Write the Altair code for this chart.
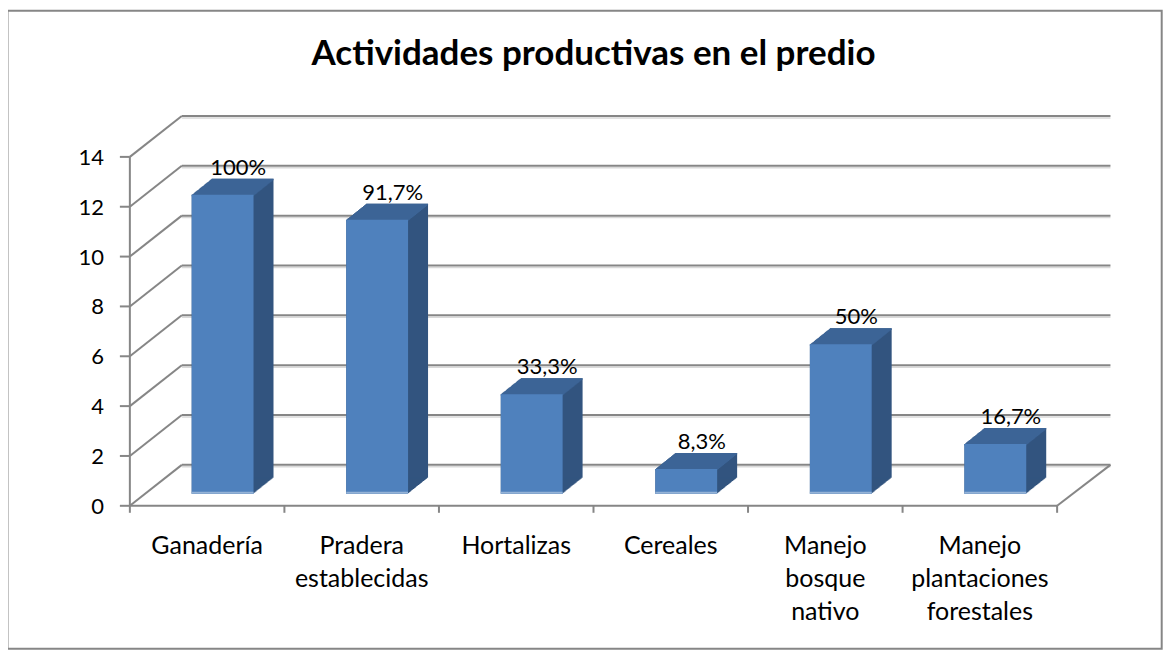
import altair as alt
import pandas as pd

# ---- data ----
categories = ["Ganadería", "Pradera\nestablecidas", "Hortalizas", "Cereales",
              "Manejo\nbosque\nnativo", "Manejo\nplantaciones\nforestales"]
counts = [12, 11, 4, 1, 6, 2]
pct_labels = ["100%", "91,7%", "33,3%", "8,3%", "50%", "16,7%"]
y_ticks = [0, 2, 4, 6, 8, 10, 12, 14]
title_text = "Actividades productivas en el predio"

# ---- style ----
FONT = "Lato"
W, H = 928.3, 349.3
GRID = "#868686"
FRONT = "#4F81BD"
TOP = "#3C6496"
SIDE = "#32547F"
EDGE = "#95B3D7"
DEPTH_X, DEPTH_Y = 52, -41          # back wall offset
BAR_X, BAR_Y = 15.5, -12            # bar front face offset
BAR_DX, BAR_DY = 20, -16            # bar depth

N = len(categories)
df = pd.DataFrame({"cat": categories, "n": counts, "pct": pct_labels, "i": list(range(N))})
grid_df = pd.DataFrame({"v": y_ticks})
bounds_df = pd.DataFrame({"b": list(range(N + 1))})
one = pd.DataFrame({"a": [0]})

xs = alt.Scale(domain=[0, N], nice=False, zero=False)
ys = alt.Scale(domain=[0, 14], nice=False)

base = alt.Chart(df).transform_calculate(
    x0="datum.i + 0.3", x1="datum.i + 0.7", xc="datum.i + 0.5"
)
g = alt.Chart(grid_df)

layers = []

# outer border
layers.append(
    alt.Chart(one).mark_rect(filled=False, stroke=GRID, strokeWidth=2).encode(
        x=alt.value(-122.5), x2=alt.value(1033), y=alt.value(-146.2), y2=alt.value(492.3)
    )
)

# back wall gridlines (shadow + line)
layers.append(
    g.mark_rule(color="#D9D9D9", strokeWidth=1.5,
                xOffset=DEPTH_X, x2Offset=DEPTH_X + 1.4, yOffset=DEPTH_Y + 2).encode(
        x=alt.X(datum=0, scale=xs, axis=None), x2=alt.X2(datum=N),
        y=alt.Y("v:Q", scale=ys, axis=None))
)
layers.append(
    g.mark_rule(color=GRID, strokeWidth=2,
                xOffset=DEPTH_X, x2Offset=DEPTH_X + 1.4, yOffset=DEPTH_Y).encode(
        x=alt.X(datum=0, scale=xs, axis=None), x2=alt.X2(datum=N),
        y=alt.Y("v:Q", scale=ys, axis=None))
)
# left wall diagonals
layers.append(
    g.mark_rule(color=GRID, strokeWidth=2, x2Offset=DEPTH_X, y2Offset=DEPTH_Y).encode(
        x=alt.X(datum=0, scale=xs, axis=None), x2=alt.X2(datum=0),
        y=alt.Y("v:Q", scale=ys, axis=None), y2="v:Q")
)
# right floor diagonal
layers.append(
    alt.Chart(one).mark_rule(color=GRID, strokeWidth=2, x2Offset=DEPTH_X + 1.4, y2Offset=DEPTH_Y).encode(
        x=alt.X(datum=N, scale=xs, axis=None), x2=alt.X2(datum=N),
        y=alt.Y(datum=0, scale=ys, axis=None), y2=alt.Y2(datum=0))
)

# ---- axes drawn as marks ----
# y axis line
layers.append(
    alt.Chart(one).mark_rule(color=GRID, strokeWidth=2).encode(
        x=alt.X(datum=0, scale=xs, axis=None),
        y=alt.Y(datum=0, scale=ys, axis=None), y2=alt.Y2(datum=14))
)
# x axis line
layers.append(
    alt.Chart(one).mark_rule(color=GRID, strokeWidth=2).encode(
        x=alt.X(datum=0, scale=xs, axis=None), x2=alt.X2(datum=N),
        y=alt.Y(datum=0, scale=ys, axis=None))
)
# y ticks
layers.append(
    g.mark_rule(color=GRID, strokeWidth=2, xOffset=-10).encode(
        x=alt.X(datum=0, scale=xs, axis=None), x2=alt.X2(datum=0),
        y=alt.Y("v:Q", scale=ys, axis=None))
)
# y tick labels
layers.append(
    g.mark_text(font=FONT, fontSize=22, color="black", align="right", baseline="middle",
                dx=-26, dy=1).encode(
        x=alt.X(datum=0, scale=xs, axis=None), y=alt.Y("v:Q", scale=ys, axis=None), text="v:Q")
)
# x ticks at category boundaries
layers.append(
    alt.Chart(bounds_df).mark_rule(color=GRID, strokeWidth=2, y2Offset=7).encode(
        x=alt.X("b:Q", scale=xs, axis=None),
        y=alt.Y(datum=0, scale=ys, axis=None), y2=alt.Y2(datum=0))
)

# bar extrusion (side colour)
STEPS = 20
for k in range(STEPS + 1):
    dx = BAR_X + BAR_DX * k / STEPS
    dy = BAR_Y + BAR_DY * k / STEPS
    layers.append(
        base.mark_rect(color=SIDE, xOffset=dx, x2Offset=dx, yOffset=dy, y2Offset=dy).encode(
            x=alt.X("x0:Q", scale=xs, axis=None), x2="x1:Q",
            y=alt.Y("n:Q", scale=ys, axis=None), y2=alt.Y2(datum=0))
    )
# top faces
for k in range(STEPS + 1):
    dx = BAR_X + BAR_DX * k / STEPS
    dy = BAR_Y + BAR_DY * k / STEPS
    layers.append(
        base.mark_rect(color=TOP, xOffset=dx, x2Offset=dx, yOffset=dy, y2Offset=dy + 1.6).encode(
            x=alt.X("x0:Q", scale=xs, axis=None), x2="x1:Q",
            y=alt.Y("n:Q", scale=ys, axis=None), y2="n:Q")
    )

# front faces
layers.append(
    base.mark_rect(color=FRONT, xOffset=BAR_X, x2Offset=BAR_X, yOffset=BAR_Y, y2Offset=BAR_Y).encode(
        x=alt.X("x0:Q", scale=xs, axis=None), x2="x1:Q",
        y=alt.Y("n:Q", scale=ys, axis=None), y2=alt.Y2(datum=0),
        tooltip=["cat:N", "n:Q", "pct:N"])
)
# lighter bottom edge
layers.append(
    base.mark_rect(color=EDGE, xOffset=BAR_X, x2Offset=BAR_X, yOffset=BAR_Y - 2, y2Offset=BAR_Y).encode(
        x=alt.X("x0:Q", scale=xs, axis=None), x2="x1:Q",
        y=alt.Y(datum=0, scale=ys, axis=None), y2=alt.Y2(datum=0))
)

# percentage labels
layers.append(
    base.mark_text(font=FONT, fontSize=22, color="black", align="center", baseline="alphabetic",
                   dx=BAR_X + BAR_DX / 2 + 5.5, dy=BAR_Y + BAR_DY - 4).encode(
        x=alt.X("xc:Q", scale=xs, axis=None), y=alt.Y("n:Q", scale=ys, axis=None), text="pct:N")
)

# category labels
layers.append(
    base.mark_text(font=FONT, fontSize=25, color="black", align="center", baseline="alphabetic",
                   lineBreak="\n", lineHeight=33, dy=48.7).encode(
        x=alt.X("xc:Q", scale=xs, axis=None), y=alt.Y(datum=0, scale=ys, axis=None), text="cat:N")
)

# chart title
layers.append(
    alt.Chart(pd.DataFrame({"t": [title_text]})).mark_text(
        font=FONT, fontSize=35, fontWeight="bold", color="black", align="center",
        baseline="alphabetic", dy=-91.7).encode(
        x=alt.X(datum=N / 2, scale=xs, axis=None),
        y=alt.Y(datum=14, scale=ys, axis=None), text="t:N")
)

chart = alt.layer(*layers).properties(
    width=W, height=H,
    background="white",
    autosize=alt.AutoSizeParams(type="none"),
    padding={"left": 122, "top": 148.7, "right": 107, "bottom": 145},
).configure_view(stroke=None)

chart.save("out.html", embed_options={"renderer": "svg", "actions": False})
